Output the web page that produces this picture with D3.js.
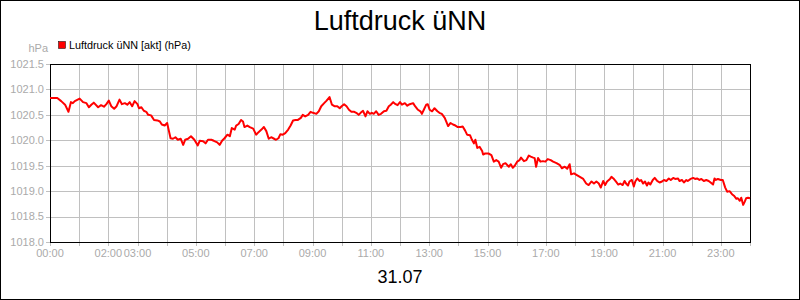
<!DOCTYPE html>
<html>
<head>
<meta charset="utf-8">
<script src="https://cdn.jsdelivr.net/npm/d3@7"></script>
<style>
  body { margin: 0; background: #fff; }
  svg { display: block; font-family: "Liberation Sans", Arial, sans-serif; }
</style>
</head>
<body>
<svg id="chart"></svg>
<script>
// minutes since 00:00 on 31.07
const minutes = [
  0, 15, 23, 31, 38, 43, 47, 51, 61, 68, 75, 80, 85, 90, 99, 105, 111, 116, 121, 126,
  132, 137, 143, 148, 154, 159, 164, 169, 174, 180, 183, 188, 193, 198, 202, 208, 214, 221, 226, 230,
  236, 241, 244, 248, 253, 258, 263, 269, 274, 278, 284, 290, 297, 304, 308, 315, 320, 325, 332, 337,
  344, 349, 354, 359, 365, 370, 374, 380, 383, 388, 393, 397, 400, 406, 411, 418, 424, 429, 435, 440,
  445, 450, 455, 461, 465, 470, 474, 479, 484, 490, 495, 500, 505, 510, 516, 520, 525, 531, 536, 541,
  548, 553, 558, 564, 569, 575, 580, 585, 591, 596, 600, 605, 610, 615, 620, 626, 630, 635, 639, 644,
  649, 653, 658, 662, 666, 671, 676, 681, 687, 692, 697, 701, 706, 711, 715, 720, 724, 730, 735, 740,
  747, 751, 757, 762, 765, 769, 774, 777, 781, 786, 791, 797, 801, 806, 812, 815, 819, 824, 829, 834,
  839, 845, 849, 854, 858, 864, 868, 872, 875, 879, 884, 889, 891, 895, 902, 908, 913, 918, 923, 928,
  932, 937, 941, 944, 948, 952, 956, 961, 966, 969, 975, 980, 985, 989, 994, 997, 1000, 1004, 1009, 1014,
  1019, 1024, 1030, 1035, 1042, 1049, 1053, 1059, 1064, 1069, 1072, 1078, 1083, 1090, 1097, 1103, 1108, 1114, 1119, 1124,
  1129, 1133, 1138, 1142, 1146, 1152, 1155, 1159, 1164, 1169, 1173, 1178, 1182, 1185, 1189, 1192, 1197, 1201, 1204, 1208,
  1213, 1216, 1220, 1224, 1228, 1231, 1235, 1240, 1244, 1249, 1254, 1259, 1263, 1268, 1273, 1277, 1282, 1286, 1292, 1295,
  1300, 1304, 1309, 1312, 1318, 1323, 1327, 1331, 1336, 1340, 1345, 1350, 1355, 1359, 1364, 1367, 1370, 1374, 1380, 1384,
  1389, 1393, 1398, 1403, 1407, 1412, 1415, 1419, 1422, 1426, 1429, 1432, 1436, 1440
];

const pressure = [
  1020.83, 1020.83, 1020.77, 1020.70, 1020.56, 1020.75, 1020.73, 1020.77, 1020.82, 1020.75, 1020.73, 1020.65, 1020.70, 1020.74, 1020.65, 1020.69, 1020.66, 1020.71, 1020.78, 1020.67,
  1020.62, 1020.67, 1020.80, 1020.71, 1020.73, 1020.70, 1020.75, 1020.67, 1020.77, 1020.71, 1020.63, 1020.65, 1020.58, 1020.56, 1020.50, 1020.49, 1020.40, 1020.39, 1020.37, 1020.31,
  1020.29, 1020.34, 1020.21, 1020.04, 1020.03, 1020.06, 1020.01, 1020.03, 1019.91, 1020.01, 1020.03, 1020.08, 1020.01, 1019.90, 1019.99, 1019.98, 1019.94, 1020.01, 1020.01, 1019.99,
  1019.96, 1019.91, 1019.99, 1020.04, 1020.11, 1020.08, 1020.24, 1020.21, 1020.29, 1020.32, 1020.40, 1020.37, 1020.26, 1020.29, 1020.26, 1020.23, 1020.11, 1020.16, 1020.21, 1020.26,
  1020.18, 1020.03, 1020.06, 1020.03, 1020.01, 1020.04, 1020.12, 1020.11, 1020.14, 1020.21, 1020.29, 1020.39, 1020.40, 1020.40, 1020.44, 1020.50, 1020.47, 1020.50, 1020.56, 1020.54,
  1020.52, 1020.57, 1020.67, 1020.73, 1020.78, 1020.85, 1020.70, 1020.67, 1020.67, 1020.63, 1020.67, 1020.71, 1020.67, 1020.60, 1020.56, 1020.56, 1020.54, 1020.50, 1020.54, 1020.58,
  1020.47, 1020.57, 1020.52, 1020.54, 1020.52, 1020.57, 1020.50, 1020.52, 1020.57, 1020.58, 1020.67, 1020.70, 1020.75, 1020.71, 1020.69, 1020.75, 1020.70, 1020.73, 1020.68, 1020.71,
  1020.73, 1020.67, 1020.60, 1020.57, 1020.52, 1020.60, 1020.70, 1020.71, 1020.60, 1020.57, 1020.63, 1020.57, 1020.54, 1020.52, 1020.44, 1020.37, 1020.28, 1020.34, 1020.31, 1020.29,
  1020.26, 1020.26, 1020.27, 1020.19, 1020.11, 1020.10, 1020.01, 1019.94, 1020.01, 1019.85, 1019.87, 1019.79, 1019.72, 1019.74, 1019.74, 1019.71, 1019.58, 1019.61, 1019.58, 1019.46,
  1019.53, 1019.55, 1019.51, 1019.48, 1019.53, 1019.46, 1019.50, 1019.58, 1019.61, 1019.66, 1019.59, 1019.61, 1019.70, 1019.68, 1019.66, 1019.65, 1019.48, 1019.65, 1019.58, 1019.59,
  1019.58, 1019.63, 1019.61, 1019.58, 1019.55, 1019.51, 1019.45, 1019.48, 1019.44, 1019.53, 1019.33, 1019.35, 1019.32, 1019.28, 1019.24, 1019.15, 1019.12, 1019.19, 1019.15, 1019.19,
  1019.15, 1019.07, 1019.20, 1019.12, 1019.19, 1019.24, 1019.28, 1019.25, 1019.19, 1019.13, 1019.15, 1019.12, 1019.20, 1019.15, 1019.11, 1019.19, 1019.22, 1019.09, 1019.19, 1019.25,
  1019.20, 1019.22, 1019.15, 1019.19, 1019.11, 1019.17, 1019.13, 1019.22, 1019.26, 1019.20, 1019.17, 1019.19, 1019.22, 1019.20, 1019.25, 1019.22, 1019.26, 1019.24, 1019.25, 1019.20,
  1019.22, 1019.17, 1019.22, 1019.20, 1019.24, 1019.26, 1019.24, 1019.25, 1019.22, 1019.24, 1019.20, 1019.22, 1019.20, 1019.17, 1019.13, 1019.25, 1019.22, 1019.24, 1019.22, 1019.22,
  1019.07, 1018.99, 1019.00, 1018.94, 1018.91, 1018.85, 1018.86, 1018.81, 1018.87, 1018.73, 1018.79, 1018.86, 1018.87, 1018.86
];

const yTicks = [1018.0, 1018.5, 1019.0, 1019.5, 1020.0, 1020.5, 1021.0, 1021.5];
const xGridHours = d3.range(0, 25);
const xLabelHours = [0, 2, 3, 5, 7, 9, 11, 13, 15, 17, 19, 21, 23];

const title = "Luftdruck üNN";
const seriesName = "Luftdruck üNN [akt] (hPa)";
const unit = "hPa";
const dateLabel = "31.07";

const width = 800;
const height = 300;
const margin = { left: 50, right: 50, top: 64, bottom: 58 };

const data = minutes.map((m, i) => ({ m: m, v: pressure[i] }));

const svg = d3.select("#chart")
  .attr("width", width)
  .attr("height", height);

// outer frame
svg.append("rect")
  .attr("x", 0.5).attr("y", 0.5)
  .attr("width", width - 1).attr("height", height - 1)
  .style("fill", "#fff")
  .style("stroke", "#000");

const x = d3.scaleLinear()
  .domain([0, 1440])
  .range([margin.left, width - margin.right]);

const y = d3.scaleLinear()
  .domain([1018, 1021.5])
  .range([height - margin.bottom, margin.top]);

// grid
svg.append("g")
  .selectAll("line.v")
  .data(xGridHours)
  .join("line")
  .attr("x1", d => Math.round(x(d * 60)) + 0.5)
  .attr("x2", d => Math.round(x(d * 60)) + 0.5)
  .attr("y1", margin.top)
  .attr("y2", height - margin.bottom + 4)
  .style("stroke", "#c0c0c0");

svg.append("g")
  .selectAll("line.h")
  .data(yTicks)
  .join("line")
  .attr("x1", margin.left - 4)
  .attr("x2", width - margin.right)
  .attr("y1", d => Math.round(y(d)) + 0.5)
  .attr("y2", d => Math.round(y(d)) + 0.5)
  .style("stroke", "#c0c0c0");

// y labels
svg.append("g")
  .selectAll("text")
  .data(yTicks)
  .join("text")
  .attr("x", margin.left - 6)
  .attr("y", d => y(d))
  .attr("dy", "0.35em")
  .style("text-anchor", "end")
  .style("font-size", "11px")
  .style("fill", "#aaaaaa")
  .text(d => d.toFixed(1));

svg.append("text")
  .attr("x", 48)
  .attr("y", 52)
  .style("text-anchor", "end")
  .style("font-size", "11px")
  .style("fill", "#aaaaaa")
  .text(unit);

// x labels
svg.append("g")
  .selectAll("text")
  .data(xLabelHours)
  .join("text")
  .attr("x", d => x(d * 60))
  .attr("y", 257)
  .style("text-anchor", "middle")
  .style("font-size", "11px")
  .style("fill", "#aaaaaa")
  .text(d => String(d).padStart(2, "0") + ":00");

// plot frame
svg.append("rect")
  .attr("x", margin.left + 0.5)
  .attr("y", margin.top + 0.5)
  .attr("width", width - margin.left - margin.right)
  .attr("height", height - margin.top - margin.bottom)
  .style("fill", "none")
  .style("stroke", "#000");

// series line
const line = d3.line()
  .x(d => x(d.m))
  .y(d => y(d.v));

svg.append("path")
  .datum(data)
  .attr("d", line)
  .style("fill", "none")
  .style("stroke", "#ff0000")
  .style("stroke-width", 2)
  .style("stroke-linejoin", "round");

// legend
svg.append("rect")
  .attr("x", 58.5).attr("y", 41.5)
  .attr("width", 7).attr("height", 7)
  .style("fill", "#ff0000")
  .style("stroke", "#000")
  .style("stroke-width", 0.5);

svg.append("text")
  .attr("x", 69)
  .attr("y", 48.5)
  .style("font-size", "10.8px")
  .style("fill", "#000")
  .text(seriesName);

// title and date
svg.append("text")
  .attr("x", width / 2)
  .attr("y", 30)
  .style("text-anchor", "middle")
  .style("font-size", "27px")
  .style("fill", "#000")
  .text(title);

svg.append("text")
  .attr("x", width / 2)
  .attr("y", 283)
  .style("text-anchor", "middle")
  .style("font-size", "18px")
  .style("fill", "#000")
  .text(dateLabel);
</script>
</body>
</html>
